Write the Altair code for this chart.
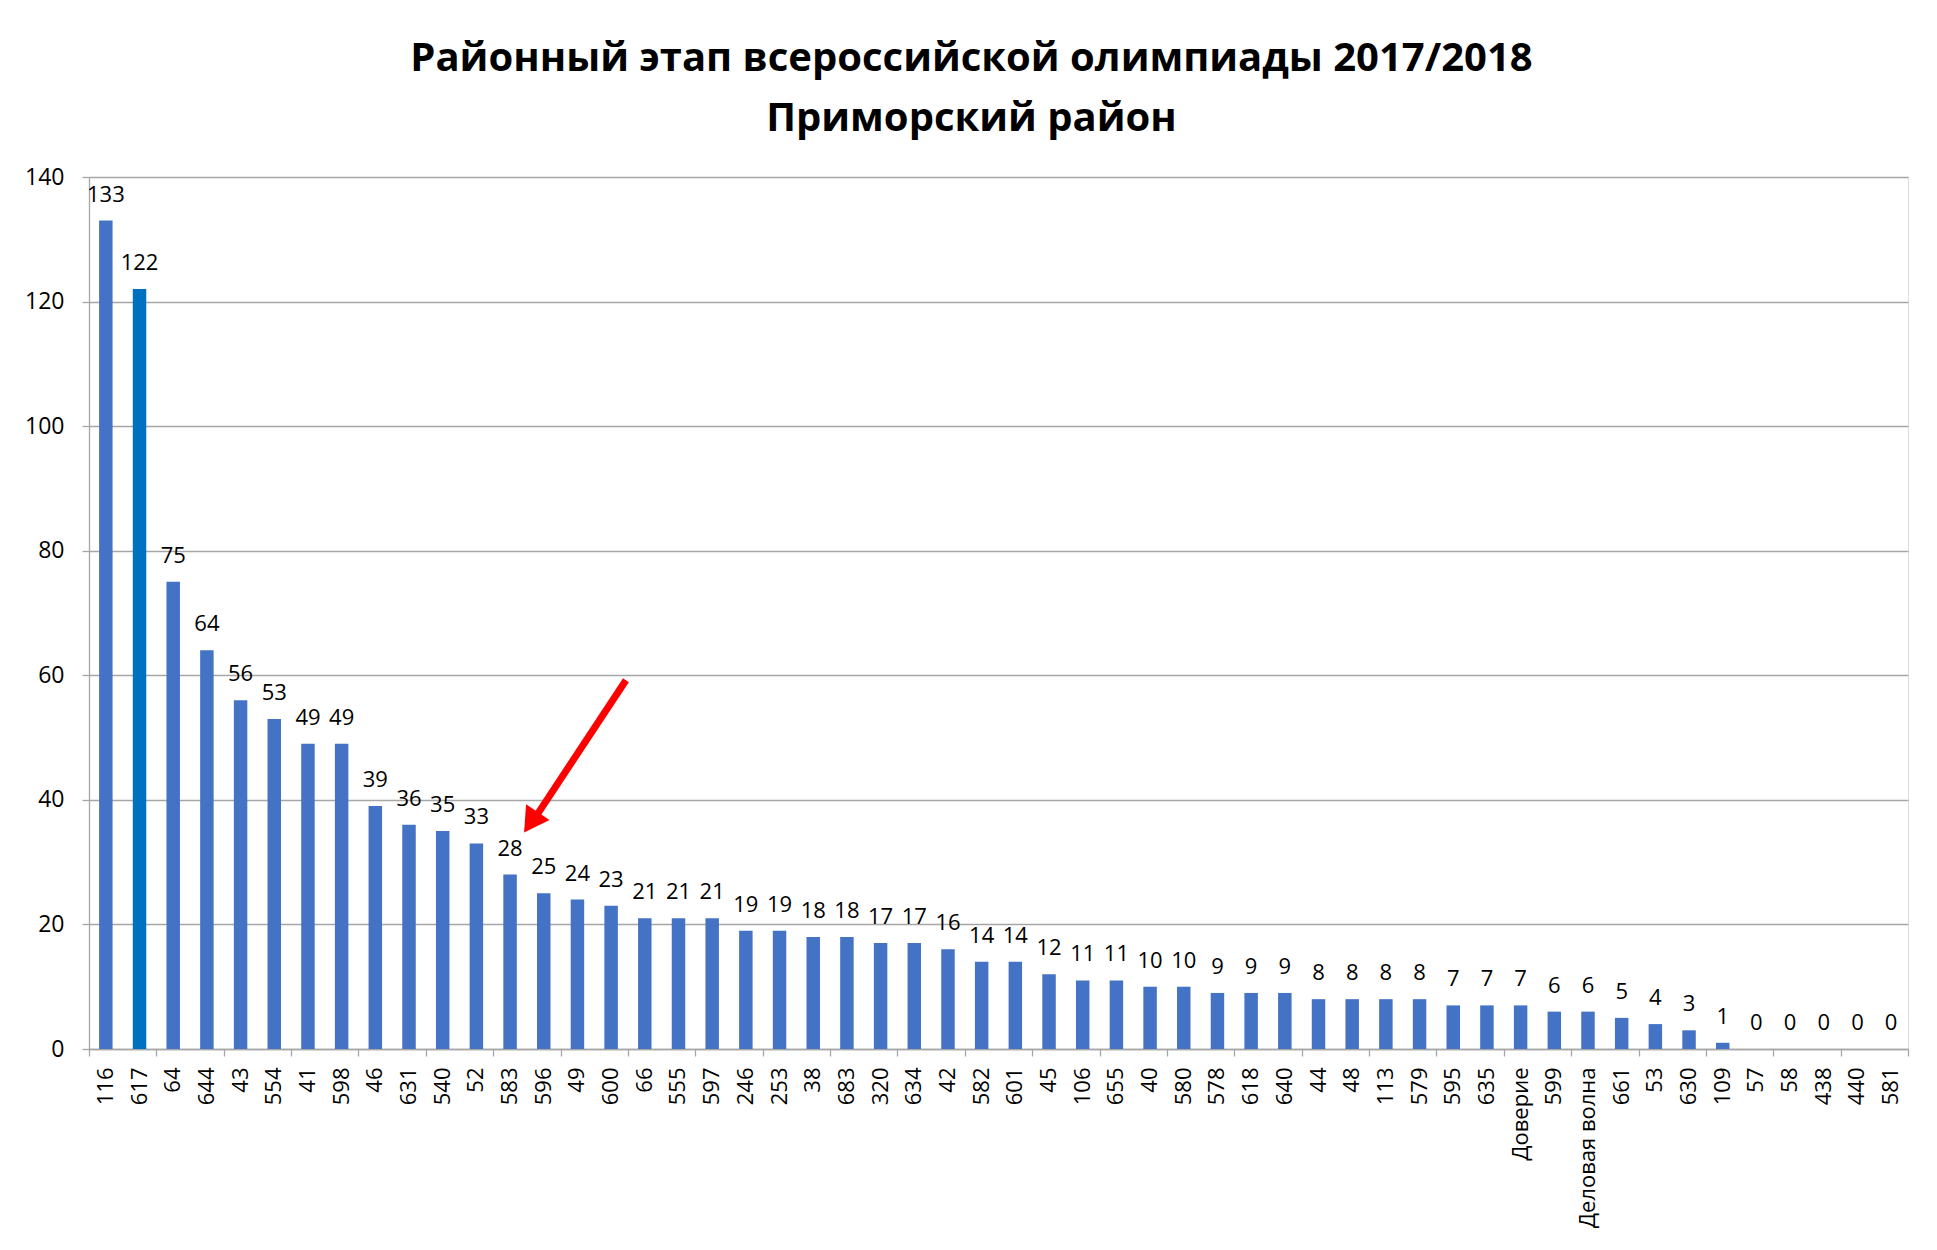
import altair as alt
import pandas as pd

# ---- data ----
schools = ["116", "617", "64", "644", "43", "554", "41", "598", "46", "631",
           "540", "52", "583", "596", "49", "600", "66", "555", "597", "246",
           "253", "38", "683", "320", "634", "42", "582", "601", "45", "106",
           "655", "40", "580", "578", "618", "640", "44", "48", "113", "579",
           "595", "635", "Доверие", "599", "Деловая волна", "661", "53", "630",
           "109", "57", "58", "438", "440", "581"]
counts = [133, 122, 75, 64, 56, 53, 49, 49, 39, 36,
          35, 33, 28, 25, 24, 23, 21, 21, 21, 19,
          19, 18, 18, 17, 17, 16, 14, 14, 12, 11,
          11, 10, 10, 9, 9, 9, 8, 8, 8, 8,
          7, 7, 7, 6, 6, 5, 4, 3,
          1, 0, 0, 0, 0, 0]
highlight_school = "617"
y_ticks = [0, 20, 40, 60, 80, 100, 120, 140]

# red arrow annotation (x in category slots, y in value units)
arrow_x = [15.94]
arrow_x2 = [13.3]
arrow_y = [59.2]
arrow_y2 = [37.6]
head_x = [13.12]
head_y = [36.4]
head_angle = [214]

title_lines = ["Районный этап всероссийской олимпиады 2017/2018", "Приморский район"]

df = pd.DataFrame({"school": schools, "count": counts})
arrow_df = pd.DataFrame({"x": arrow_x, "x2": arrow_x2, "y": arrow_y, "y2": arrow_y2})
head_df = pd.DataFrame({"x": head_x, "y": head_y, "angle": head_angle})

GRAY = "#a6a6a6"
FONT = "Open Sans"
n = len(schools)

yscale = alt.Scale(domain=[0, 140], nice=False, zero=True)
yaxis = alt.Axis(title=None, values=y_ticks, grid=True, gridColor=GRAY, gridWidth=1.3,
                 domain=True, domainColor=GRAY, domainWidth=1.3,
                 ticks=True, tickSize=7, tickColor=GRAY, tickWidth=1.3,
                 labelPadding=18, labelFont=FONT, labelFontSize=23,
                 labelColor="#000000")

x_band = alt.X(
    "school:N", sort=None,
    scale=alt.Scale(paddingInner=0.6, paddingOuter=0.3),
    axis=alt.Axis(orient="bottom", title=None, labelAngle=-90, ticks=False, tickSize=0,
                  labelPadding=18, labelFont=FONT, labelFontSize=22, labelColor="#000000",
                  domain=True, domainColor=GRAY, domainWidth=1.3, grid=False,
                  labelOverlap=False, labelLimit=400),
)

bars = alt.Chart(df).mark_bar().encode(
    x=x_band,
    y=alt.Y("count:Q", scale=yscale, axis=yaxis),
    color=alt.condition(alt.datum.school == highlight_school,
                        alt.value("#0070C0"), alt.value("#4472C4")),
)

labels = alt.Chart(df).mark_text(
    baseline="alphabetic", dy=-19, font=FONT, fontSize=22, color="#000000"
).encode(
    x=alt.X("school:N", sort=None),
    y=alt.Y("count:Q", scale=yscale, axis=yaxis),
    text="count:Q",
)

xq = alt.Scale(domain=[0, n], nice=False, zero=False)
x_slots = alt.X(
    "x:Q", scale=xq,
    axis=alt.Axis(orient="bottom", title=None, values=list(range(n + 1)), labels=False,
                  domain=False, grid=False, ticks=True, tickSize=7, tickColor=GRAY,
                  tickWidth=1.3),
)

arrow_line = alt.Chart(arrow_df).mark_rule(color="#ff0000", strokeWidth=7).encode(
    x=x_slots, x2="x2:Q",
    y=alt.Y("y:Q", scale=yscale, axis=yaxis), y2="y2:Q",
)

arrow_head = alt.Chart(head_df).mark_point(
    shape="triangle-up", filled=True, color="#ff0000", size=800, opacity=1
).encode(
    x=alt.X("x:Q", scale=xq),
    y=alt.Y("y:Q", scale=yscale, axis=yaxis),
    angle=alt.Angle("angle:Q", scale=None),
)

chart = alt.layer(
    alt.layer(bars, labels),
    alt.layer(arrow_line, arrow_head),
).resolve_scale(x="independent").properties(
    width=1819, height=872,
    title=alt.TitleParams(title_lines, font=FONT, fontSize=40, fontWeight="bold",
                          color="#000000", lineHeight=60, anchor="middle", dx=-27,
                          offset=27),
    autosize=alt.AutoSizeParams(type="none"),
    padding={"left": 81, "top": 169, "right": 15, "bottom": 180},
).configure_view(stroke=None).configure(background="white")

chart.save("out.html", embed_options={"renderer": "svg", "actions": False})
